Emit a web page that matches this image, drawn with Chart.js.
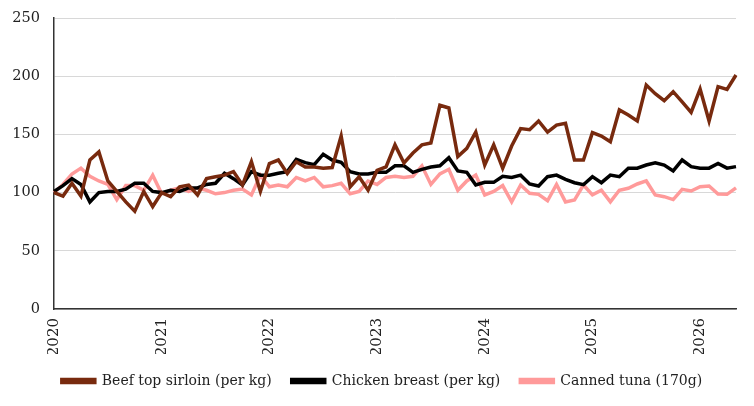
<!DOCTYPE html>
<html>
<head>
<meta charset="utf-8">
<script src="https://cdn.jsdelivr.net/npm/chart.js@4/dist/chart.umd.min.js"></script>
<style>
  html, body { margin: 0; padding: 0; background: #fff; }
  #wrap { width: 754px; height: 406px; position: relative; }
</style>
</head>
<body>
<div id="wrap"><canvas id="c"></canvas></div>
<script>
// Monthly index values, Jan 2020 = 100 (Jan 2020 .. May 2026)
const startYear = 2020;
const monthCount = 77;
const yearTickLabels = ["2020", "2021", "2022", "2023", "2024", "2025", "2026"];

const beefTopSirloin = [
  100, 97, 108, 97, 128, 135, 110, 101, 92, 84, 101, 88,
  100, 96.5, 105, 106.5, 98, 112, 113.6, 115, 118, 106.5, 126.5, 101,
  125, 128, 116.5, 126.5, 122, 122, 121, 121.5, 148.6, 105, 113.6, 102,
  119, 122, 141, 125.5, 134, 141, 142.6, 175, 172.7, 131, 138, 152,
  123.7, 141, 121, 140, 155, 154, 161.5, 152, 158, 159.5, 128, 128,
  151.5, 148.6, 143.7, 171, 166.7, 161.5, 192.4, 185, 179, 186.7, 178, 169,
  189, 161.5, 191, 188.7, 201
];

const chickenBreast = [
  101, 106, 112, 107, 92, 100, 101, 101, 103, 108, 108, 101,
  100, 102, 101, 104, 104, 107, 108, 116.6, 112, 106.5, 118, 115,
  115, 116.6, 118, 128.6, 125.7, 124, 133, 128, 126, 118, 116, 116,
  117.4, 117.4, 123, 123, 117.4, 120, 122, 123, 130, 118.6, 117.4, 106.5,
  108.8, 108.8, 114, 113, 115, 107.4, 105.7, 113.7, 115, 111.4, 108.5, 106.8,
  113.7, 108.5, 115, 113.7, 121, 121, 123.7, 125.7, 123.7, 118.6, 128, 122.3,
  121, 121, 125, 121, 122.3
];

const cannedTuna = [
  100, 107, 116, 121, 114, 110, 107, 94, 106, 106, 102, 115,
  99, 102, 104, 101, 104, 102, 99, 100, 102, 103, 98, 115,
  105, 106.5, 105, 113, 110, 113, 105, 106, 108, 99, 101, 110,
  107, 113, 114, 113, 114, 123, 107, 116, 120, 102, 110, 115,
  98, 101, 106, 92, 106.5, 99.4, 98.5, 93, 107, 92, 93.6, 106.5,
  98, 102, 92, 102, 103.7, 107.4, 110, 98, 96.5, 94, 102.8, 101.4,
  105, 105.7, 98.8, 98.5, 104
];

const seriesNames = ["Beef top sirloin (per kg)", "Chicken breast (per kg)", "Canned tuna (170g)"];
const seriesColors = ["#782a0e", "#000000", "#ff9a9a"];

const monthLabels = [];
for (let i = 0; i < monthCount; i++) {
  const y = startYear + Math.floor(i / 12);
  const m = (i % 12) + 1;
  monthLabels.push(y + "-" + (m < 10 ? "0" + m : m));
}

const serif = "'DejaVu Serif', 'Liberation Serif', serif";

// shift the legend so it is centred like the reference
const legendShift = {
  id: "legendShift",
  afterLayout(chart) {
    if (chart.legend) {
      chart.legend.left += 14;
      chart.legend.right += 14;
    }
  }
};

new Chart(document.getElementById("c"), {
  type: "line",
  plugins: [legendShift],
  data: {
    labels: monthLabels,
    datasets: [beefTopSirloin, chickenBreast, cannedTuna].map((d, k) => ({
      label: seriesNames[k],
      data: d,
      borderColor: seriesColors[k],
      backgroundColor: seriesColors[k],
      borderWidth: 3.5,
      pointRadius: 0,
      pointHoverRadius: 0,
      tension: 0,
      fill: false
    }))
  },
  options: {
    responsive: true,
    maintainAspectRatio: false,
    animation: false,
    layout: { padding: { top: 18, right: 18, left: 0, bottom: 8 } },
    plugins: {
      tooltip: { enabled: false },
      legend: {
        position: "bottom",
        labels: {
          boxWidth: 33,
          boxHeight: 3,
          padding: 20,
          color: "#222",
          font: { family: serif, size: 14 }
        }
      }
    },
    scales: {
      x: {
        type: "category",
        offset: false,
        grid: { display: false, drawTicks: false },
        border: { display: true, color: "#333", width: 1.5 },
        afterFit: function (scale) {
          scale.height = 45;
          scale.paddingLeft = 0;
          scale.paddingRight = 0;
        },
        ticks: {
          autoSkip: false,
          maxRotation: 90,
          minRotation: 90,
          padding: 9,
          color: "#222",
          font: { family: serif, size: 15 },
          callback: function (val, idx) {
            return idx % 12 === 0 ? yearTickLabels[idx / 12] : "";
          }
        }
      },
      y: {
        min: 0,
        max: 250,
        grid: { color: "#d8d8d8", lineWidth: 1, drawTicks: false },
        border: { display: true, color: "#333", width: 1.5 },
        afterFit: function (scale) {
          scale.width = 54;
          scale.paddingTop = 0;
          scale.paddingBottom = 0;
        },
        ticks: {
          stepSize: 50,
          padding: 14,
          color: "#222",
          font: { family: serif, size: 14.5 }
        }
      }
    }
  }
});
</script>
</body>
</html>
